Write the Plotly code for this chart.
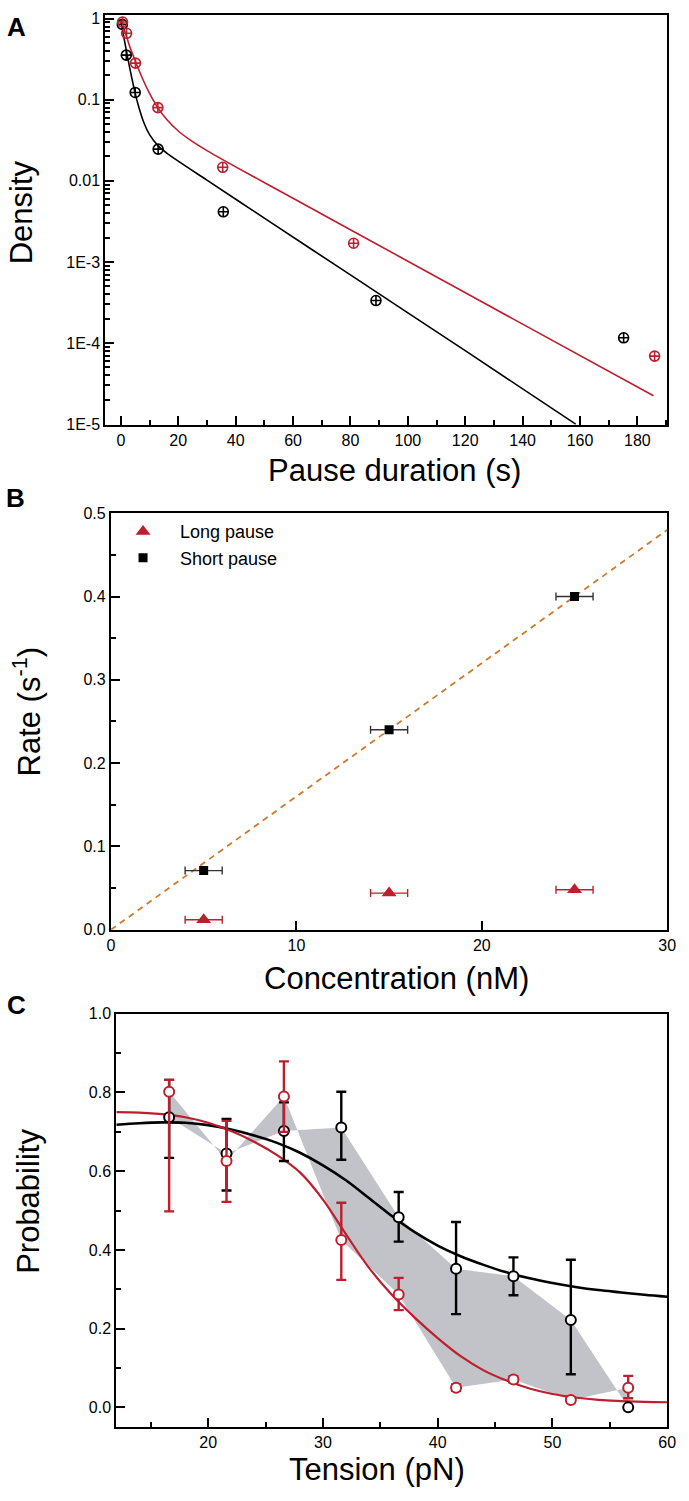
import plotly.graph_objects as go

# ---------------- Panel A data ----------------
black_t = [0.5, 1.9, 5.0, 13.0, 35.7, 88.9, 175.2]
black_d = [0.85, 0.355, 0.123, 0.0246, 0.00415, 3.34e-4, 1.16e-4]
red_t = [0.6, 2.0, 5.1, 12.9, 35.5, 81.1, 186.0]
red_d = [0.91, 0.66, 0.283, 0.080, 0.0147, 1.7e-3, 6.9e-5]

black_fit_t = [0, 1, 2, 3, 4, 5, 6, 8, 10, 13, 16, 20, 30, 50, 80, 120, 158.5]
black_fit_d = [0.951, 0.604, 0.390, 0.256, 0.173, 0.120, 0.0874, 0.0524, 0.0371,
               0.0270, 0.0220, 0.0175, 0.0102, 0.00347, 6.91e-4, 8.05e-5, 1.0e-5]
red_fit_t = [0, 1, 2, 3, 4, 5, 6, 8, 10, 13, 16, 20, 25, 30, 40, 60, 100, 140, 185.6]
red_fit_d = [0.929, 0.76, 0.60, 0.465, 0.373, 0.302, 0.246, 0.168, 0.120, 0.0789,
             0.0570, 0.0412, 0.0304, 0.0236, 0.01489, 0.00609, 1.022e-3, 1.71e-4, 2.24e-5]

a_ytickvals = [1, 0.1, 0.01, 1e-3, 1e-4, 1e-5]
a_yticktext = ["1", "0.1", "0.01", "1E-3", "1E-4", "1E-5"]

# ---------------- Panel B data ----------------
conc = [5, 15, 25]
conc_err = [1, 1, 1]
short_rate = [0.071, 0.240, 0.400]
long_rate = [0.012, 0.044, 0.048]
line_conc = [0, 30]
line_rate = [0, 0.48]

# ---------------- Panel C data ----------------
tension = [16.6, 21.6, 26.6, 31.6, 36.6, 41.6, 46.6, 51.6, 56.6]
black_p = [0.737, 0.645, 0.702, 0.711, 0.483, 0.352, 0.333, 0.222, 0.0]
black_up = [0.095, 0.088, 0.073, 0.091, 0.064, 0.119, 0.048, 0.153, 0.0]
black_dn = [0.103, 0.094, 0.076, 0.082, 0.062, 0.115, 0.048, 0.138, 0.0]
red_p = [0.802, 0.626, 0.790, 0.425, 0.287, 0.050, 0.071, 0.019, 0.050]
red_up = [0.030, 0.102, 0.089, 0.095, 0.042, 0.008, 0.008, 0.006, 0.030]
red_dn = [0.304, 0.104, 0.090, 0.101, 0.040, 0.008, 0.008, 0.006, 0.027]

fit_tension = [12, 14, 16, 18, 20, 22, 24, 26, 28, 30, 32, 34, 36, 38, 40, 42, 44,
               46, 48, 50, 52, 54, 56, 58, 60]
red_fit_p = [0.750, 0.749, 0.745, 0.737, 0.723, 0.702, 0.675, 0.641, 0.597, 0.528,
             0.440, 0.355, 0.286, 0.228, 0.176, 0.130, 0.094, 0.068, 0.048, 0.034,
             0.025, 0.019, 0.016, 0.014, 0.013]
black_fit_p = [0.718, 0.722, 0.724, 0.723, 0.717, 0.706, 0.691, 0.672, 0.647, 0.615,
               0.577, 0.532, 0.486, 0.445, 0.411, 0.384, 0.362, 0.343, 0.328, 0.316,
               0.306, 0.298, 0.292, 0.286, 0.281]

RED = "#be1e2d"
BLACK = "#000000"
GRAY = "#c1c3c9"
ORANGE = "#cf7a2a"
FONT = "Liberation Sans, Arial, sans-serif"

W, H = 689, 1501


def px_x(p):
    return p / W


def px_y(p):
    return 1 - p / H


fig = go.Figure()

# ---- Panel A ----
fig.add_trace(go.Scatter(x=black_fit_t, y=black_fit_d, mode="lines",
                         line=dict(color=BLACK, width=1.6, shape="spline", smoothing=0.8),
                         xaxis="x", yaxis="y", showlegend=False))
fig.add_trace(go.Scatter(x=red_fit_t, y=red_fit_d, mode="lines",
                         line=dict(color=RED, width=1.6, shape="spline", smoothing=0.8),
                         xaxis="x", yaxis="y", showlegend=False))
fig.add_trace(go.Scatter(x=black_t, y=black_d, mode="markers",
                         marker=dict(symbol="circle-cross-open", size=10, color=BLACK,
                                     line=dict(width=1.6, color=BLACK)),
                         xaxis="x", yaxis="y", showlegend=False))
fig.add_trace(go.Scatter(x=red_t, y=red_d, mode="markers",
                         marker=dict(symbol="circle-cross-open", size=10, color=RED,
                                     line=dict(width=1.6, color=RED)),
                         xaxis="x", yaxis="y", showlegend=False))

# ---- Panel B ----
fig.add_trace(go.Scatter(x=line_conc, y=line_rate, mode="lines",
                         line=dict(color=ORANGE, width=1.8, dash="6px,5px"),
                         xaxis="x2", yaxis="y2", showlegend=False))
fig.add_trace(go.Scatter(x=conc, y=long_rate, mode="markers", name="Long pause",
                         marker=dict(symbol="triangle-up", size=13, color=RED),
                         error_x=dict(type="data", array=conc_err, color=RED,
                                      thickness=1.4, width=4),
                         xaxis="x2", yaxis="y2", showlegend=True))
fig.add_trace(go.Scatter(x=conc, y=short_rate, mode="markers", name="Short pause",
                         marker=dict(symbol="square", size=9, color=BLACK),
                         error_x=dict(type="data", array=conc_err, color="#333333",
                                      thickness=1.4, width=4),
                         xaxis="x2", yaxis="y2", showlegend=True))

# ---- Panel C ----
poly_x = tension + tension[::-1]
poly_y = black_p + red_p[::-1]
fig.add_trace(go.Scatter(x=poly_x, y=poly_y, mode="lines", fill="toself",
                         fillcolor=GRAY, line=dict(width=0, color=GRAY),
                         xaxis="x3", yaxis="y3", showlegend=False))
fig.add_trace(go.Scatter(x=fit_tension, y=black_fit_p, mode="lines",
                         line=dict(color=BLACK, width=2.6, shape="spline"),
                         xaxis="x3", yaxis="y3", showlegend=False))
fig.add_trace(go.Scatter(x=fit_tension, y=red_fit_p, mode="lines",
                         line=dict(color=RED, width=2.2, shape="spline"),
                         xaxis="x3", yaxis="y3", showlegend=False))
fig.add_trace(go.Scatter(x=tension, y=black_p, mode="markers",
                         marker=dict(symbol="circle", size=10, color="white",
                                     line=dict(width=2, color=BLACK)),
                         error_y=dict(type="data", symmetric=False, array=black_up,
                                      arrayminus=black_dn, color=BLACK, thickness=2.4, width=5),
                         xaxis="x3", yaxis="y3", showlegend=False))
fig.add_trace(go.Scatter(x=tension, y=red_p, mode="markers",
                         marker=dict(symbol="circle", size=10, color="white",
                                     line=dict(width=2, color=RED)),
                         error_y=dict(type="data", symmetric=False, array=red_up,
                                      arrayminus=red_dn, color=RED, thickness=2.4, width=5),
                         xaxis="x3", yaxis="y3", showlegend=False))

tickfont = dict(family=FONT, size=16, color="black")


def axis_style(**kw):
    d = dict(showline=True, linecolor="black", linewidth=2.2, mirror=True,
             ticks="inside", tickcolor="black", tickwidth=2, ticklen=9,
             showgrid=False, zeroline=False, tickfont=tickfont, fixedrange=True)
    d.update(kw)
    return d


minor_log = [m * 10 ** e for e in range(-5, 0) for m in range(2, 10)]

fig.update_layout(
    width=W, height=H, autosize=False,
    margin=dict(l=0, r=0, t=0, b=0),
    paper_bgcolor="white", plot_bgcolor="white",
    font=dict(family=FONT, color="black"),
    xaxis=axis_style(domain=[px_x(103.3), px_x(676)], anchor="y",
                     range=[-5.4, 190.4], tickmode="linear", tick0=0, dtick=20,
                     minor=dict(tickmode="linear", tick0=0, dtick=10, ticks="inside",
                                ticklen=5, tickwidth=1.6, tickcolor="black")),
    yaxis=axis_style(domain=[px_y(421.7), px_y(6.7)], anchor="x", type="log",
                     range=[-5.01, 0.05], tickmode="array", tickvals=a_ytickvals,
                     ticktext=a_yticktext,
                     minor=dict(tickmode="array", tickvals=minor_log, ticks="inside",
                                ticklen=5, tickwidth=1.6, tickcolor="black")),
    xaxis2=axis_style(domain=[px_x(109), px_x(676)], anchor="y2",
                      range=[0, 30], tickmode="linear", tick0=0, dtick=10),
    yaxis2=axis_style(domain=[px_y(932.3), px_y(511)], anchor="x2",
                      range=[0, 0.5], tickmode="linear", tick0=0, dtick=0.1,
                      tickformat=".1f",
                      minor=dict(tickmode="linear", tick0=0, dtick=0.05, ticks="inside",
                                 ticklen=5, tickwidth=1.6, tickcolor="black")),
    xaxis3=axis_style(domain=[px_x(114.5), px_x(676)], anchor="y3",
                      range=[12, 60], tickmode="linear", tick0=0, dtick=10,
                      minor=dict(tickmode="linear", tick0=5, dtick=10, ticks="inside",
                                 ticklen=5, tickwidth=1.6, tickcolor="black")),
    yaxis3=axis_style(domain=[px_y(1435.3), px_y(1017.3)], anchor="x3",
                      range=[-0.05, 1.0], tickmode="linear", tick0=0, dtick=0.2,
                      tickformat=".1f",
                      minor=dict(tickmode="linear", tick0=0.1, dtick=0.2, ticks="inside",
                                 ticklen=5, tickwidth=1.6, tickcolor="black")),
    legend=dict(x=px_x(104), y=px_y(511), xanchor="left", yanchor="top",
                bgcolor="rgba(0,0,0,0)", borderwidth=0, itemwidth=64,
                font=dict(family=FONT, size=18, color="black"), tracegroupgap=0),
)

title_font = dict(family=FONT, size=31, color="black")
letter_font = dict(family=FONT, size=26, color="black", weight="bold")

annots = [
    # panel letters
    dict(text="<b>A</b>", x=px_x(13), y=px_y(19), font=letter_font),
    dict(text="<b>B</b>", x=px_x(12), y=px_y(496), font=letter_font),
    dict(text="<b>C</b>", x=px_x(13), y=px_y(1008), font=letter_font),
    # axis titles
    dict(text="Pause duration (s)", x=px_x(398), y=px_y(468), font=title_font),
    dict(text="Density", x=px_x(18), y=px_y(207), font=title_font, textangle=-90),
    dict(text="Concentration (nM)", x=px_x(400), y=px_y(982), font=title_font),
    dict(text="Rate (s<sup>-1</sup>)", x=px_x(23), y=px_y(712), font=title_font,
         textangle=-90),
    dict(text="Tension (pN)", x=px_x(380), y=px_y(1478.5), font=title_font),
    dict(text="Probability", x=px_x(25), y=px_y(1207), font=title_font, textangle=-90),
]
for a in annots:
    a.update(xref="paper", yref="paper", showarrow=False, xanchor="center",
             yanchor="middle")
fig.update_layout(annotations=annots)

fig.write_html("out.html", config={"displayModeBar": False},
               post_script="document.body.style.margin='0px';")
